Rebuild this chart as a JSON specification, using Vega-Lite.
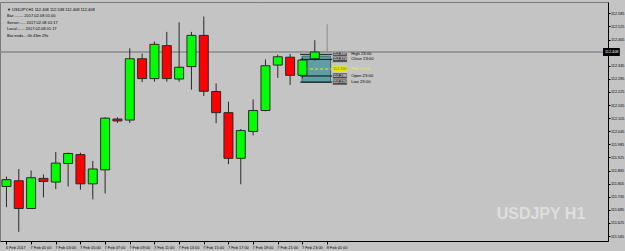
{
  "$schema": "https://vega.github.io/schema/vega-lite/v6.json",
  "width": 608,
  "height": 239,
  "autosize": "none",
  "padding": {"left": 0, "top": 2, "right": 17, "bottom": 10},
  "background": "#c4c4c4",
  "config": {"view": {"stroke": "#7a7a7a", "strokeWidth": 1}, "font": "Liberation Sans"},
  "data": {"values": [{}]},
  "datasets": {
    "candles": [
      {"t": "2017-02-06T23:00:00Z", "o": 111.792, "h": 111.837, "l": 111.697, "c": 111.823},
      {"t": "2017-02-07T00:00:00Z", "o": 111.818, "h": 111.872, "l": 111.584, "c": 111.691},
      {"t": "2017-02-07T01:00:00Z", "o": 111.691, "h": 111.865, "l": 111.689, "c": 111.832},
      {"t": "2017-02-07T02:00:00Z", "o": 111.829, "h": 111.847, "l": 111.742, "c": 111.815},
      {"t": "2017-02-07T03:00:00Z", "o": 111.812, "h": 111.950, "l": 111.780, "c": 111.899},
      {"t": "2017-02-07T04:00:00Z", "o": 111.897, "h": 111.947, "l": 111.792, "c": 111.943},
      {"t": "2017-02-07T05:00:00Z", "o": 111.938, "h": 111.947, "l": 111.777, "c": 111.804},
      {"t": "2017-02-07T06:00:00Z", "o": 111.804, "h": 111.909, "l": 111.733, "c": 111.872},
      {"t": "2017-02-07T07:00:00Z", "o": 111.868, "h": 112.109, "l": 111.760, "c": 112.105},
      {"t": "2017-02-07T08:00:00Z", "o": 112.101, "h": 112.109, "l": 112.083, "c": 112.092},
      {"t": "2017-02-07T09:00:00Z", "o": 112.096, "h": 112.425, "l": 112.083, "c": 112.377},
      {"t": "2017-02-07T10:00:00Z", "o": 112.377, "h": 112.400, "l": 112.270, "c": 112.286},
      {"t": "2017-02-07T11:00:00Z", "o": 112.286, "h": 112.456, "l": 112.272, "c": 112.443},
      {"t": "2017-02-07T12:00:00Z", "o": 112.437, "h": 112.500, "l": 112.272, "c": 112.286},
      {"t": "2017-02-07T13:00:00Z", "o": 112.284, "h": 112.544, "l": 112.272, "c": 112.338},
      {"t": "2017-02-07T14:00:00Z", "o": 112.341, "h": 112.500, "l": 112.235, "c": 112.484},
      {"t": "2017-02-07T15:00:00Z", "o": 112.484, "h": 112.570, "l": 112.206, "c": 112.228},
      {"t": "2017-02-07T16:00:00Z", "o": 112.227, "h": 112.264, "l": 112.082, "c": 112.130},
      {"t": "2017-02-07T17:00:00Z", "o": 112.130, "h": 112.180, "l": 111.894, "c": 111.921},
      {"t": "2017-02-07T18:00:00Z", "o": 111.921, "h": 112.055, "l": 111.802, "c": 112.048},
      {"t": "2017-02-07T19:00:00Z", "o": 112.044, "h": 112.191, "l": 112.026, "c": 112.140},
      {"t": "2017-02-07T20:00:00Z", "o": 112.140, "h": 112.374, "l": 112.136, "c": 112.345},
      {"t": "2017-02-07T21:00:00Z", "o": 112.348, "h": 112.396, "l": 112.289, "c": 112.386},
      {"t": "2017-02-07T22:00:00Z", "o": 112.384, "h": 112.399, "l": 112.257, "c": 112.301},
      {"t": "2017-02-07T23:00:00Z", "o": 112.301, "h": 112.381, "l": 112.289, "c": 112.371},
      {"t": "2017-02-08T00:00:00Z", "o": 112.377, "h": 112.462, "l": 112.368, "c": 112.408},
      {"t": "2017-02-08T01:00:00Z", "o": 112.408, "h": 112.535, "l": 112.408, "c": 112.408}
    ],
    "levels": [
      {"name": "High", "price": 112.397, "lab": "High 23:00"},
      {"name": "Close", "price": 112.374, "lab": "Close 23:00"},
      {"name": "Mid", "price": 112.330, "lab": "Mid 23:00"},
      {"name": "Open", "price": 112.298, "lab": "Open 23:00"},
      {"name": "Low", "price": 112.270, "lab": "Low 23:00"}
    ]
  },
  "resolve": {"axis": {"x": "independent", "y": "independent"}},
  "layer": [
    {
      "mark": {"type": "rect", "fill": "#5e9ea4", "stroke": "#3c6a70", "strokeWidth": 1},
      "encoding": {
        "x": {"datum": {"year": 2017, "month": 2, "date": 7, "hours": 22, "minutes": 58, "utc": true}, "type": "temporal", "axis": null,
              "scale": {"type": "utc", "domain": [{"year": 2017, "month": 2, "date": 6, "hours": 22, "minutes": 53, "utc": true}, {"year": 2017, "month": 2, "date": 8, "hours": 23, "minutes": 22, "utc": true}]}},
        "x2": {"datum": {"year": 2017, "month": 2, "date": 8, "hours": 1, "minutes": 17, "utc": true}},
        "y": {"datum": 112.389, "type": "quantitative", "axis": null, "scale": {"domain": [111.565, 112.614], "zero": false, "nice": false}},
        "y2": {"datum": 112.269}
      }
    },
    {
      "data": {"name": "levels"},
      "mark": {"type": "rule", "strokeWidth": 1},
      "encoding": {
        "x": {"datum": {"year": 2017, "month": 2, "date": 7, "hours": 22, "minutes": 49, "utc": true}, "type": "temporal", "axis": null,
              "scale": {"type": "utc", "domain": [{"year": 2017, "month": 2, "date": 6, "hours": 22, "minutes": 53, "utc": true}, {"year": 2017, "month": 2, "date": 8, "hours": 23, "minutes": 22, "utc": true}]}},
        "x2": {"datum": {"year": 2017, "month": 2, "date": 8, "hours": 1, "minutes": 26, "utc": true}},
        "y": {"field": "price", "type": "quantitative", "axis": null, "scale": {"domain": [111.565, 112.614], "zero": false, "nice": false}},
        "color": {"field": "name", "type": "nominal", "legend": null,
                  "scale": {"domain": ["High", "Close", "Mid", "Open", "Low"], "range": ["#000000", "#000000", "#f0f000", "#000000", "#000000"]}},
        "strokeDash": {"condition": {"test": "datum.name == 'Mid'", "value": [3, 2]}, "value": [1, 0]}
      }
    },
    {
      "mark": {"type": "rule", "color": "#8a8a8a", "strokeWidth": 1.5},
      "encoding": {
        "y": {"datum": 112.408, "type": "quantitative", "axis": null, "scale": {"domain": [111.565, 112.614], "zero": false, "nice": false}}
      }
    },
    {
      "data": {"name": "candles"},
      "mark": {"type": "rule", "strokeWidth": 1},
      "encoding": {
        "x": {"field": "t", "type": "temporal", "title": null,
              "scale": {"type": "utc", "domain": [{"year": 2017, "month": 2, "date": 6, "hours": 22, "minutes": 53, "utc": true}, {"year": 2017, "month": 2, "date": 8, "hours": 23, "minutes": 22, "utc": true}]},
              "axis": {
                "values": [
                  {"year": 2017, "month": 2, "date": 6, "hours": 23, "utc": true},
                  {"year": 2017, "month": 2, "date": 7, "hours": 1, "utc": true},
                  {"year": 2017, "month": 2, "date": 7, "hours": 3, "utc": true},
                  {"year": 2017, "month": 2, "date": 7, "hours": 5, "utc": true},
                  {"year": 2017, "month": 2, "date": 7, "hours": 7, "utc": true},
                  {"year": 2017, "month": 2, "date": 7, "hours": 9, "utc": true},
                  {"year": 2017, "month": 2, "date": 7, "hours": 11, "utc": true},
                  {"year": 2017, "month": 2, "date": 7, "hours": 13, "utc": true},
                  {"year": 2017, "month": 2, "date": 7, "hours": 15, "utc": true},
                  {"year": 2017, "month": 2, "date": 7, "hours": 17, "utc": true},
                  {"year": 2017, "month": 2, "date": 7, "hours": 19, "utc": true},
                  {"year": 2017, "month": 2, "date": 7, "hours": 21, "utc": true},
                  {"year": 2017, "month": 2, "date": 7, "hours": 23, "utc": true},
                  {"year": 2017, "month": 2, "date": 8, "hours": 1, "utc": true}
                ],
                "labelExpr": "utcFormat(datum.value, '%d %H') == '06 23' ? '6 Feb 2017' : utcFormat(datum.value, '%-d %b %H:%M')",
                "title": null, "grid": false, "labelFontSize": 3.9, "labelColor": "#000000", "labelAlign": "left",
                "labelPadding": 1, "labelOffset": -1, "tickSize": 3, "tickColor": "#000000", "domainColor": "#000000",
                "labelOverlap": false, "labelBound": false, "labelFlush": false, "labelFont": "Liberation Sans"
              }},
        "y": {"field": "l", "type": "quantitative", "title": null,
              "scale": {"domain": [111.565, 112.614], "zero": false, "nice": false},
              "axis": {
                "orient": "right",
                "values": [111.565, 111.625, 111.685, 111.745, 111.805, 111.865, 111.925, 111.985, 112.045, 112.105, 112.165, 112.225, 112.285, 112.345, 112.465, 112.525, 112.585],
                "format": ".3f", "title": null, "grid": false, "labelFontSize": 3.8, "labelColor": "#000000",
                "labelPadding": 0.5, "tickSize": 2, "tickColor": "#000000", "domainColor": "#000000",
                "labelOverlap": false, "labelBound": false, "labelFlush": false, "labelFont": "Liberation Sans"
              }},
        "y2": {"field": "h"},
        "color": {"condition": {"test": "datum.o == datum.c", "value": "#8a8a8a"}, "value": "#2a2a2a"}
      }
    },
    {
      "data": {"name": "candles"},
      "transform": [{"filter": "datum.o != datum.c"}],
      "mark": {"type": "bar", "size": 9, "stroke": "#2a2a2a", "strokeWidth": 1},
      "encoding": {
        "x": {"field": "t", "type": "temporal", "axis": null,
              "scale": {"type": "utc", "domain": [{"year": 2017, "month": 2, "date": 6, "hours": 22, "minutes": 53, "utc": true}, {"year": 2017, "month": 2, "date": 8, "hours": 23, "minutes": 22, "utc": true}]}},
        "y": {"field": "o", "type": "quantitative", "axis": null, "scale": {"domain": [111.565, 112.614], "zero": false, "nice": false}},
        "y2": {"field": "c"},
        "fill": {"condition": {"test": "datum.c > datum.o", "value": "#00ff00"}, "value": "#ff0000"}
      }
    },
    {
      "data": {"name": "levels"},
      "mark": {"type": "bar", "size": 6, "stroke": "#d0d0d0", "strokeWidth": 0.6},
      "encoding": {
        "x": {"datum": {"year": 2017, "month": 2, "date": 8, "hours": 1, "minutes": 26, "utc": true}, "type": "temporal", "axis": null,
              "scale": {"type": "utc", "domain": [{"year": 2017, "month": 2, "date": 6, "hours": 22, "minutes": 53, "utc": true}, {"year": 2017, "month": 2, "date": 8, "hours": 23, "minutes": 22, "utc": true}]}},
        "x2": {"datum": {"year": 2017, "month": 2, "date": 8, "hours": 2, "minutes": 38, "utc": true}},
        "y": {"field": "price", "type": "quantitative", "axis": null, "scale": {"domain": [111.565, 112.614], "zero": false, "nice": false}},
        "fill": {"condition": {"test": "datum.name == 'Mid'", "value": "#e6e600"}, "value": "#4a4a4a"}
      }
    },
    {
      "data": {"name": "levels"},
      "mark": {"type": "text", "fontSize": 3.9, "align": "center", "baseline": "middle", "font": "Liberation Sans"},
      "encoding": {
        "x": {"datum": {"year": 2017, "month": 2, "date": 8, "hours": 2, "minutes": 2, "utc": true}, "type": "temporal", "axis": null,
              "scale": {"type": "utc", "domain": [{"year": 2017, "month": 2, "date": 6, "hours": 22, "minutes": 53, "utc": true}, {"year": 2017, "month": 2, "date": 8, "hours": 23, "minutes": 22, "utc": true}]}},
        "y": {"field": "price", "type": "quantitative", "axis": null, "scale": {"domain": [111.565, 112.614], "zero": false, "nice": false}},
        "text": {"field": "price", "type": "quantitative", "format": ".3f"},
        "color": {"condition": {"test": "datum.name == 'Mid'", "value": "#7a7a00"}, "value": "#ffffff"}
      }
    },
    {
      "data": {"name": "levels"},
      "mark": {"type": "text", "fontSize": 4.2, "align": "left", "baseline": "middle", "font": "Liberation Sans"},
      "encoding": {
        "x": {"datum": {"year": 2017, "month": 2, "date": 8, "hours": 2, "minutes": 57, "utc": true}, "type": "temporal", "axis": null,
              "scale": {"type": "utc", "domain": [{"year": 2017, "month": 2, "date": 6, "hours": 22, "minutes": 53, "utc": true}, {"year": 2017, "month": 2, "date": 8, "hours": 23, "minutes": 22, "utc": true}]}},
        "y": {"field": "price", "type": "quantitative", "axis": null, "scale": {"domain": [111.565, 112.614], "zero": false, "nice": false}},
        "text": {"field": "lab", "type": "nominal"},
        "color": {"condition": {"test": "datum.name == 'Mid'", "value": "#f5f500"}, "value": "#000000"}
      }
    },
    {
      "mark": {"type": "bar", "size": 8, "color": "#000000"},
      "encoding": {
        "x": {"datum": {"year": 2017, "month": 2, "date": 8, "hours": 23, "minutes": 22, "utc": true}, "type": "temporal", "axis": null,
              "scale": {"type": "utc", "domain": [{"year": 2017, "month": 2, "date": 6, "hours": 22, "minutes": 53, "utc": true}, {"year": 2017, "month": 2, "date": 8, "hours": 23, "minutes": 22, "utc": true}]}},
        "x2": {"datum": {"year": 2017, "month": 2, "date": 9, "hours": 0, "minutes": 44, "utc": true}},
        "y": {"datum": 112.408, "type": "quantitative", "axis": null, "scale": {"domain": [111.565, 112.614], "zero": false, "nice": false}}
      }
    },
    {
      "mark": {"type": "text", "text": "112.408", "fontSize": 3.8, "align": "left", "baseline": "middle", "dx": 2, "color": "#ffffff", "font": "Liberation Sans"},
      "encoding": {
        "x": {"datum": {"year": 2017, "month": 2, "date": 8, "hours": 23, "minutes": 22, "utc": true}, "type": "temporal", "axis": null,
              "scale": {"type": "utc", "domain": [{"year": 2017, "month": 2, "date": 6, "hours": 22, "minutes": 53, "utc": true}, {"year": 2017, "month": 2, "date": 8, "hours": 23, "minutes": 22, "utc": true}]}},
        "y": {"datum": 112.408, "type": "quantitative", "axis": null, "scale": {"domain": [111.565, 112.614], "zero": false, "nice": false}}
      }
    },
    {
      "mark": {"type": "text", "text": ["▼ USDJPY,H1  112.408 112.538 112.408 112.408", "Bar:........ 2017.02.08 01:00", "Server:..... 2017.02.08 01:17", "Local:...... 2017.02.08 01:17", "Bar ends... 0h 43m 29s"],
               "fontSize": 4, "lineHeight": 6.5, "align": "left", "baseline": "top", "dx": 2, "dy": 0.5, "color": "#000000", "font": "Liberation Sans"},
      "encoding": {
        "x": {"datum": {"year": 2017, "month": 2, "date": 6, "hours": 22, "minutes": 53, "utc": true}, "type": "temporal", "axis": null,
              "scale": {"type": "utc", "domain": [{"year": 2017, "month": 2, "date": 6, "hours": 22, "minutes": 53, "utc": true}, {"year": 2017, "month": 2, "date": 8, "hours": 23, "minutes": 22, "utc": true}]}},
        "y": {"datum": 112.614, "type": "quantitative", "axis": null, "scale": {"domain": [111.565, 112.614], "zero": false, "nice": false}}
      }
    },
    {
      "mark": {"type": "text", "text": "USDJPY H1", "fontSize": 16, "fontWeight": "bold", "align": "right", "baseline": "alphabetic", "color": "#dedede", "font": "Liberation Sans"},
      "encoding": {
        "x": {"datum": {"year": 2017, "month": 2, "date": 8, "hours": 21, "minutes": 56, "utc": true}, "type": "temporal", "axis": null,
              "scale": {"type": "utc", "domain": [{"year": 2017, "month": 2, "date": 6, "hours": 22, "minutes": 53, "utc": true}, {"year": 2017, "month": 2, "date": 8, "hours": 23, "minutes": 22, "utc": true}]}},
        "y": {"datum": 111.644, "type": "quantitative", "axis": null, "scale": {"domain": [111.565, 112.614], "zero": false, "nice": false}}
      }
    }
  ]
}
